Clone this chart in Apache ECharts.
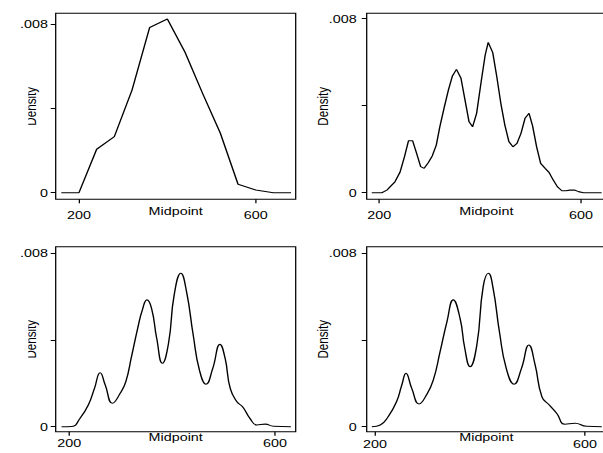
<!DOCTYPE html>
<html>
<head>
<meta charset="utf-8">
<script src="https://cdn.jsdelivr.net/npm/echarts@6/dist/echarts.min.js"></script>
<style>
  html, body { margin: 0; padding: 0; background: #fff; overflow: hidden; }
  #main { transform-origin: 0 0; }
</style>
</head>
<body>
<div id="main"></div>
<script>
// top left: frequency polygon at bin midpoints
var polyX = [160, 200, 240, 280, 320, 360, 400, 440, 480, 520, 560, 600, 640, 680];
var polyY = [0, 0, 0.00206, 0.00266, 0.00487, 0.00784, 0.00824, 0.00666, 0.0047, 0.00282, 0.0004, 0.00013, 0, 0];

// top right: rough density, many short segments
var roughX = [185, 205, 215, 231, 241, 250, 258, 266, 274, 282, 289, 297, 305, 313, 320, 329, 337, 345, 353, 362,
  370, 378, 385, 393, 402, 410, 416, 425, 433, 441, 449, 457, 465, 473, 481, 489, 497, 504, 512, 520,
  529, 537, 545, 553, 562, 570, 578, 587, 595, 605, 641];
var roughY = [0, 0, 0.00012, 0.0005, 0.00094, 0.00166, 0.00239, 0.00239, 0.00181, 0.0012, 0.00112, 0.00138, 0.00169, 0.00219, 0.00303, 0.00395, 0.00472, 0.00537, 0.00567, 0.00526,
  0.00426, 0.00326, 0.00303, 0.00365, 0.0051, 0.00633, 0.00691, 0.00644, 0.00533, 0.00411, 0.00311, 0.00235, 0.00211, 0.00227, 0.00273, 0.00342, 0.00365, 0.00307, 0.00211, 0.00135,
  0.00112, 0.00092, 0.00058, 0.00028, 0.00009, 0.00009, 0.00012, 0.00012, 0.00005, 0, 0];

// bottom left: smoothed density
var smoothX = [185, 205, 221, 237, 249, 260, 270, 284, 299, 310, 321, 333, 342, 351, 360, 370, 381, 393, 404, 417,
  428, 441, 453, 466, 479, 493, 503, 513, 526, 537, 552, 565, 581, 597, 631];
var smoothY = [0, 0.00001, 0.00039, 0.001, 0.00177, 0.00249, 0.00192, 0.00108, 0.00154, 0.00208, 0.00323, 0.00454, 0.00538, 0.00585, 0.00546, 0.00408, 0.00293, 0.00385, 0.00608, 0.00708,
  0.00623, 0.00423, 0.00262, 0.00196, 0.00269, 0.0038, 0.00316, 0.00177, 0.00115, 0.00092, 0.00036, 0.00008, 0.00012, 0.00002, 0];

// bottom right: smooth density curve
var curveX = [194, 210, 225, 241, 251, 259, 270, 284, 298, 311, 324, 337, 349, 362, 371, 381, 394, 406, 416, 425,
  437, 450, 465, 479, 493, 505, 518, 532, 546, 562, 581, 603, 632];
var curveY = [0, 0.00008, 0.00046, 0.00115, 0.00192, 0.00246, 0.00177, 0.00105, 0.00146, 0.00215, 0.00346, 0.00484, 0.00585, 0.005, 0.00362, 0.00277, 0.00377, 0.00645, 0.00708, 0.00638,
  0.00438, 0.00269, 0.00196, 0.00269, 0.00377, 0.00285, 0.00138, 0.001, 0.00062, 0.00011, 0.00016, 0.00002, 0];

// ticks and labels
var xTicks = [200, 600];
var yTicks = [0, 0.004, 0.008];
var yLabels = [0, 0.008];

// the original picture is stretched sideways, so draw narrow and scale up
var SX = 1.27;
function px(v) { return v / SX; }

var dom = document.getElementById('main');
dom.style.width = px(603) + 'px';
dom.style.height = '453px';
dom.style.transform = 'scaleX(' + SX + ')';

var FONT = 'Liberation Sans, Arial, sans-serif';

function pairs(xs, ys) {
  return xs.map(function (x, i) { return [x, ys[i]]; });
}

// layout of the four panels, in screen pixels
var panels = [
  { l: 55.7, r: 295.7, t: 13.3, b: 199.3, xMin: 147.3, xMax: 690.5, yMin: -0.000313, yMax: 0.00851,
    xLab: 10, xName: 6.4, yLab: 7.7, yName: 17.4, data: pairs(polyX, polyY), smooth: false },
  { l: 366.7, r: 606, t: 13.3, b: 199.3, xMin: 175, xMax: 649.6, yMin: -0.000303, yMax: 0.008248,
    xLab: 10, xName: 6, yLab: 10, yName: 36.2, data: pairs(roughX, roughY), smooth: false },
  { l: 55.7, r: 295.7, t: 246.7, b: 431.7, xMin: 173.6, xMax: 640.3, yMin: -0.000231, yMax: 0.008305,
    xLab: 5.5, xName: 0.3, yLab: 7.7, yName: 17.4, data: pairs(smoothX, smoothY), smooth: 0.5 },
  { l: 366.7, r: 606, t: 246.7, b: 431.7, xMin: 184.2, xMax: 640, yMin: -0.000231, yMax: 0.008305,
    xLab: 6.5, xName: 0, yLab: 10, yName: 36.2, data: pairs(curveX, curveY), smooth: 0.5 }
];

var grids = [], xAxes = [], yAxes = [], series = [];
panels.forEach(function (p, i) {
  grids.push({
    left: px(p.l), top: p.t, width: px(p.r - p.l), height: p.b - p.t,
    show: true, borderColor: '#000', borderWidth: 1, backgroundColor: 'transparent',
    containLabel: false, outerBoundsMode: 'none'
  });
  xAxes.push({
    gridIndex: i, type: 'value', min: p.xMin, max: p.xMax,
    axisLine: { show: false, onZero: false },
    splitLine: { show: false },
    axisTick: { show: true, length: 4, customValues: xTicks, lineStyle: { color: '#000', width: 1 } },
    axisLabel: { customValues: xTicks, margin: p.xLab, color: '#000', fontSize: 11.3, fontFamily: FONT },
    name: 'Midpoint', nameLocation: 'middle', nameGap: p.xName, nameMoveOverlap: false,
    nameTextStyle: { color: '#000', fontSize: 11.3, fontFamily: FONT }
  });
  yAxes.push({
    gridIndex: i, type: 'value', min: p.yMin, max: p.yMax,
    axisLine: { show: false, onZero: false },
    splitLine: { show: false },
    axisTick: { show: true, length: px(5), customValues: yTicks, lineStyle: { color: '#000', width: 1 } },
    axisLabel: {
      customValues: yLabels, margin: px(p.yLab), color: '#000', fontSize: 11.3, fontFamily: FONT,
      formatter: function (v) { return v === 0 ? '0' : String(v).replace(/^0\./, '.'); }
    },
    name: 'Density', nameLocation: 'middle', nameGap: px(p.yName), nameMoveOverlap: false,
    nameTextStyle: { color: '#000', fontSize: 11.6, fontFamily: FONT }
  });
  series.push({
    type: 'line', xAxisIndex: i, yAxisIndex: i, data: p.data,
    symbol: 'none', smooth: p.smooth,
    lineStyle: { color: '#000', width: 1.1 }
  });
});

var chart = echarts.init(dom, null, { renderer: 'svg' });
chart.setOption({
  animation: false,
  backgroundColor: '#fff',
  grid: grids,
  xAxis: xAxes,
  yAxis: yAxes,
  series: series,
  // the left-hand "Density" titles are cut off at the page edge in the original
  graphic: [
    { type: 'rect', z: 100, shape: { x: 0, y: 60, width: px(28.3), height: 90 }, style: { fill: '#fff' } },
    { type: 'rect', z: 100, shape: { x: 0, y: 292, width: px(28.3), height: 90 }, style: { fill: '#fff' } }
  ]
});
</script>
</body>
</html>
